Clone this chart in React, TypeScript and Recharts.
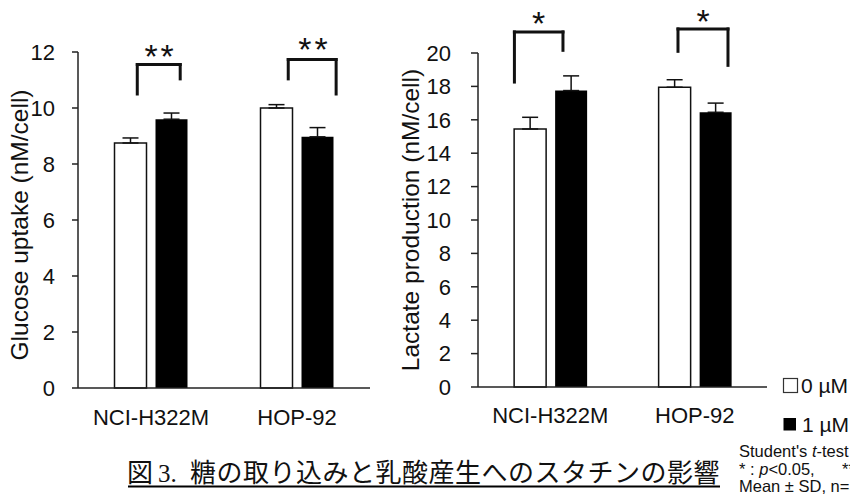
import React from "react";
import { BarChart, Bar, XAxis, YAxis, ErrorBar, ReferenceLine, ReferenceDot } from "recharts";

const cellLines = ["NCI-H322M", "HOP-92"];
const doseLabels = ["0 µM", "1 µM"];

const glucose0 = [8.75, 10.0];
const glucose1 = [9.6, 8.97];
const glucoseSd0 = [0.18, 0.12];
const glucoseSd1 = [0.22, 0.33];
const glucoseTicks = [0, 2, 4, 6, 8, 10, 12];

const lactate0 = [15.45, 17.95];
const lactate1 = [17.75, 16.45];
const lactateSd0 = [0.7, 0.45];
const lactateSd1 = [0.88, 0.55];
const lactateTicks = [0, 2, 4, 6, 8, 10, 12, 14, 16, 18, 20];

// significance brackets, x as fraction of plot width (0..1), y in data units: [left leg end, top, right leg end]
const glucoseBracketX = [[0.203, 0.35], [0.72, 0.884]];
const glucoseBracketY = [[10.5, 11.55, 11.04], [11.04, 11.73, 10.5]];
const glucoseStars = ["**", "**"];
const glucoseStarAt = [[0.283, 12.09], [0.81, 12.37]];

const lactateBracketX = [[0.126, 0.294], [0.692, 0.865]];
const lactateBracketY = [[18.26, 21.26, 20.16], [20.1, 21.44, 19.26]];
const lactateStars = ["*", "*"];
const lactateStarAt = [[0.215, 22.2], [0.784, 22.32]];

const caption = "糖の取り込みと乳酸産生へのスタチンの影響";

const INK = "#111";

function buildData(v0: number[], v1: number[], s0: number[], s1: number[]) {
  return cellLines.map((name, i) => ({
    name,
    c0: v0[i],
    c1: v1[i],
    e0: [0, s0[i]],
    e1: [0, s1[i]],
  }));
}

const Star = (text: string) => (props: any) => (
  <text
    x={props.cx}
    y={props.cy + 19}
    textAnchor="middle"
    fontSize={34}
    letterSpacing={3}
    fill={INK}
  >
    {text}
  </text>
);

function Panel({ data, ticks, max, bx, by, stars, starAt, width, margin, yWidth, ySize, yMargin, xMargin }: any) {
  const seg = { stroke: INK, strokeWidth: 3, strokeLinecap: "square" as const, xAxisId: "pos", ifOverflow: "visible" as const };
  return (
    <BarChart width={width} height={430} data={data} margin={margin} barCategoryGap="25%" barGap={9}>
      <XAxis
        dataKey="name"
        height={40}
        tickLine={false}
        tickSize={0}
        tickMargin={xMargin}
        axisLine={{ stroke: "#222", strokeWidth: 1.5 }}
        tick={{ fill: INK, fontSize: 22 }}
      />
      <XAxis xAxisId="pos" type="number" domain={[0, 1]} allowDataOverflow hide />
      <YAxis
        width={yWidth}
        domain={[0, max]}
        ticks={ticks}
        interval={0}
        tickSize={ySize}
        tickMargin={yMargin}
        axisLine={{ stroke: "#222", strokeWidth: 1.5 }}
        tickLine={{ stroke: "#222", strokeWidth: 1.5 }}
        tick={{ fill: INK, fontSize: 22 }}
      />
      <Bar dataKey="c0" fill="#fff" stroke={INK} strokeWidth={1.5} isAnimationActive={false}>
        <ErrorBar dataKey="e0" width={8} stroke={INK} strokeWidth={1.5} direction="y" isAnimationActive={false} />
      </Bar>
      <Bar dataKey="c1" fill="#000" isAnimationActive={false}>
        <ErrorBar dataKey="e1" width={8} stroke={INK} strokeWidth={1.5} direction="y" isAnimationActive={false} />
      </Bar>
      {bx.map((xs: number[], i: number) => [
        <ReferenceLine key={`l${i}`} {...seg} segment={[{ x: xs[0], y: by[i][0] }, { x: xs[0], y: by[i][1] }]} />,
        <ReferenceLine key={`t${i}`} {...seg} segment={[{ x: xs[0], y: by[i][1] }, { x: xs[1], y: by[i][1] }]} />,
        <ReferenceLine key={`r${i}`} {...seg} segment={[{ x: xs[1], y: by[i][1] }, { x: xs[1], y: by[i][2] }]} />,
        <ReferenceDot
          key={`s${i}`}
          xAxisId="pos"
          x={starAt[i][0]}
          y={starAt[i][1]}
          r={0}
          ifOverflow="visible"
          shape={Star(stars[i])}
        />,
      ])}
    </BarChart>
  );
}

export default function App() {
  const glucoseData = buildData(glucose0, glucose1, glucoseSd0, glucoseSd1);
  const lactateData = buildData(lactate0, lactate1, lactateSd0, lactateSd1);

  return (
    <div
      style={{
        position: "absolute",
        left: 0,
        top: 0,
        width: 850,
        height: 500,
        overflow: "hidden",
        background: "#fff",
        fontFamily: "'Liberation Sans', Arial, sans-serif",
      }}
    >
      <div style={{ position: "absolute", left: 0, top: 0 }}>
        <Panel
          data={glucoseData}
          ticks={glucoseTicks}
          max={12}
          bx={glucoseBracketX}
          by={glucoseBracketY}
          stars={glucoseStars}
          starAt={glucoseStarAt}
          width={380}
          margin={{ top: 52, right: 10, bottom: 2, left: 0 }}
          yWidth={78}
          ySize={6}
          yMargin={17}
          xMargin={21}
        />
      </div>
      <div style={{ position: "absolute", left: 380, top: 0 }}>
        <Panel
          data={lactateData}
          ticks={lactateTicks}
          max={20}
          bx={lactateBracketX}
          by={lactateBracketY}
          stars={lactateStars}
          starAt={lactateStarAt}
          width={390}
          margin={{ top: 53, right: 3, bottom: 3, left: 0 }}
          yWidth={98}
          ySize={7}
          yMargin={20}
          xMargin={20}
        />
      </div>

      <svg width={850} height={500} style={{ position: "absolute", left: 0, top: 0, pointerEvents: "none" }}>
        <text x={19} y={225} transform="rotate(-90 19 225)" textAnchor="middle" dominantBaseline="central" fontSize={24.5} fill={INK}>
          Glucose uptake (nM/cell)
        </text>
        <text x={410} y={220} transform="rotate(-90 410 220)" textAnchor="middle" dominantBaseline="central" fontSize={24.5} fill={INK}>
          Lactate production (nM/cell)
        </text>

        {/* legend */}
        <rect x={783.5} y={378.5} width={14} height={14} fill="#fff" stroke="#333" strokeWidth={1.2} />
        <text x={801} y={393} fontSize={21} fill={INK}>{doseLabels[0]}</text>
        <rect x={783.5} y={418} width={12.5} height={12.5} fill="#000" />
        <text x={802} y={432} fontSize={21} fill={INK}>{doseLabels[1]}</text>

        {/* notes, cropped at the right edge like the source figure */}
        <text x={739} y={457} fontSize={16.5} fill={INK}>
          Student's <tspan fontStyle="italic">t</tspan>-test
        </text>
        <text x={739} y={474.5} fontSize={16.5} fill={INK}>
          * : <tspan fontStyle="italic">p</tspan>&lt;0.05,
          <tspan x={842}>** : </tspan><tspan fontStyle="italic">p</tspan>&lt;0.01
        </text>
        <text x={739} y={492} fontSize={16.5} fill={INK}>
          Mean ± SD, n=3
        </text>

        {/* caption */}
        <text y={482} fontSize={26} fill={INK} fontFamily="'Noto Sans CJK JP', sans-serif">
          <tspan x={127}>図</tspan>
          <tspan x={158} fontFamily="'Liberation Serif', serif" fontSize={25}>3.</tspan>
          <tspan x={190} letterSpacing={0.5}>{caption}</tspan>
        </text>
        <line x1={128} x2={720} y1={486.5} y2={486.5} stroke="#000" strokeWidth={2} />
      </svg>
    </div>
  );
}
